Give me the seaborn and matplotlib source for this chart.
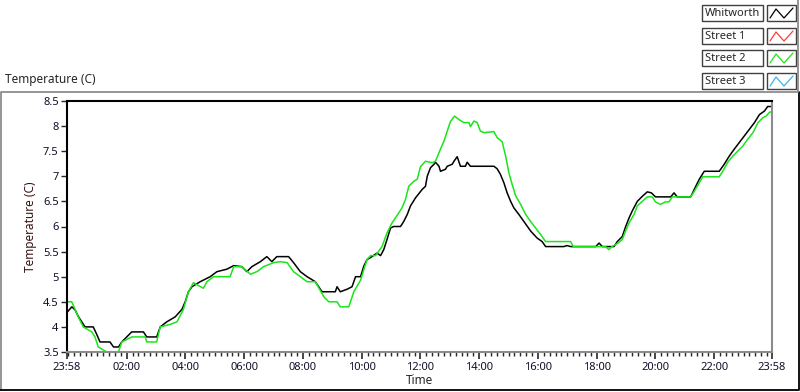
import matplotlib
matplotlib.use("Agg")
import matplotlib.pyplot as plt
from matplotlib.lines import Line2D
from matplotlib.patches import Rectangle
from matplotlib.ticker import MultipleLocator
import seaborn as sns
import pandas as pd

# hours since midnight (axis runs 23:58 -> 23:58)
whitworth_t = [-0.03, 0.13, 0.24, 0.35, 0.47, 0.58, 0.86, 0.98, 1.09, 1.43, 1.55, 1.72, 1.83,
               2.00, 2.17, 2.57, 2.68, 3.02, 3.14, 3.36, 3.65, 3.88, 3.99, 4.10, 4.22, 4.50,
               4.84, 5.07, 5.41, 5.64, 5.92, 6.09, 6.26, 6.55, 6.77, 6.94, 7.11, 7.51, 7.68,
               7.91, 8.14, 8.42, 8.65, 9.10, 9.16, 9.27, 9.50, 9.67, 9.79, 9.96, 10.07,
               10.18, 10.35, 10.52, 10.64, 10.75, 10.86, 10.98, 11.09, 11.32, 11.43, 11.55,
               11.66, 11.83, 12.06, 12.17, 12.23, 12.34, 12.46, 12.51, 12.63, 12.68, 12.85,
               12.91, 13.08, 13.14, 13.25, 13.36, 13.53, 13.59, 13.70, 14.50, 14.61, 14.72,
               14.84, 14.95, 15.07, 15.18, 15.35, 15.52, 15.75, 15.97, 16.14, 16.26, 16.88,
               16.99, 17.11, 17.97, 18.08, 18.19, 18.59, 18.70, 18.87, 18.98, 19.10, 19.21,
               19.38, 19.55, 19.72, 19.86, 20.00, 20.52, 20.63, 20.74, 21.20, 21.32, 21.49,
               21.66, 22.17, 22.34, 22.51, 22.68, 22.85, 23.02, 23.19, 23.37, 23.54, 23.71,
               23.82, 23.97]
whitworth_v = [4.29, 4.40, 4.34, 4.21, 4.10, 4.00, 4.00, 3.85, 3.70, 3.70, 3.60, 3.60, 3.70,
               3.80, 3.90, 3.90, 3.80, 3.80, 4.00, 4.10, 4.20, 4.35, 4.50, 4.70, 4.80, 4.90,
               5.00, 5.10, 5.15, 5.22, 5.20, 5.10, 5.20, 5.30, 5.40, 5.30, 5.40, 5.40, 5.28,
               5.10, 5.00, 4.90, 4.70, 4.70, 4.80, 4.70, 4.75, 4.80, 5.00, 5.00, 5.21,
               5.34, 5.40, 5.47, 5.42, 5.54, 5.74, 5.97, 6.00, 6.00, 6.10, 6.24,
               6.41, 6.57, 6.74, 6.80, 7.00, 7.17, 7.24, 7.28, 7.20, 7.10, 7.14,
               7.20, 7.24, 7.30, 7.39, 7.20, 7.20, 7.28, 7.20, 7.20, 7.15, 7.04,
               6.87, 6.67, 6.50, 6.37, 6.24, 6.10, 5.91, 5.77, 5.70, 5.60, 5.60,
               5.62, 5.60, 5.60, 5.67, 5.60, 5.60, 5.70, 5.80, 5.99, 6.17, 6.31,
               6.50, 6.60, 6.69, 6.67, 6.59, 6.59, 6.67, 6.59, 6.59, 6.74, 6.94,
               7.10, 7.10, 7.24, 7.40, 7.54, 7.67, 7.80, 7.93, 8.07, 8.23, 8.30,
               8.39, 8.39]

street2_t = [-0.03, 0.13, 0.24, 0.35, 0.52, 0.81, 0.92, 1.03, 1.32, 1.72, 1.83, 2.17, 2.63,
             2.68, 3.02, 3.14, 3.48, 3.71, 3.93, 4.10, 4.27, 4.61, 4.73, 4.95, 5.52, 5.64,
             5.92, 6.21, 6.43, 6.66, 7.00, 7.23, 7.46, 7.68, 8.14, 8.42, 8.71, 8.88, 9.16,
             9.27, 9.56, 9.73, 9.96, 10.07, 10.18, 10.30, 10.47, 10.69, 10.86, 11.03,
             11.26, 11.37, 11.49, 11.60, 11.77, 11.89, 12.00, 12.17, 12.40, 12.51, 12.68,
             12.80, 12.91, 13.02, 13.16, 13.31, 13.48, 13.65, 13.70, 13.82, 13.93, 14.04,
             14.16, 14.50, 14.61, 14.78, 14.90, 15.01, 15.12, 15.24, 15.41, 15.58, 15.75,
             15.92, 16.09, 16.26, 17.11, 17.20, 18.30, 18.41, 18.52, 18.70, 18.87, 18.98,
             19.10, 19.27, 19.38, 19.55, 19.72, 19.89, 20.00, 20.17, 20.34, 20.46, 20.57,
             21.20, 21.32, 21.49, 21.61, 22.17, 22.29, 22.46, 22.63, 22.80, 22.97, 23.14,
             23.32, 23.49, 23.66, 23.77, 23.89, 23.97]
street2_v = [4.50, 4.50, 4.35, 4.20, 4.00, 3.90, 3.80, 3.60, 3.50, 3.50, 3.70, 3.80, 3.80,
             3.70, 3.70, 4.00, 4.05, 4.10, 4.35, 4.70, 4.88, 4.77, 4.90, 5.00, 5.00, 5.20,
             5.20, 5.05, 5.10, 5.20, 5.28, 5.30, 5.28, 5.10, 4.90, 4.90, 4.60, 4.50, 4.50,
             4.40, 4.40, 4.70, 4.93, 5.14, 5.34, 5.42, 5.42, 5.60, 5.87, 6.07,
             6.27, 6.37, 6.54, 6.80, 6.90, 6.94, 7.19, 7.30, 7.27, 7.30, 7.54,
             7.70, 7.90, 8.09, 8.20, 8.13, 8.07, 8.07, 7.99, 8.10, 8.07, 7.90,
             7.87, 7.89, 7.77, 7.69, 7.40, 7.07, 6.84, 6.61, 6.44, 6.24, 6.10,
             5.97, 5.84, 5.70, 5.70, 5.60, 5.60, 5.54, 5.60, 5.66, 5.74, 5.91,
             6.07, 6.24, 6.41, 6.50, 6.59, 6.59, 6.49, 6.44, 6.49, 6.49, 6.59,
             6.59, 6.70, 6.87, 6.99, 6.99, 7.10, 7.28, 7.40, 7.50, 7.60, 7.74,
             7.87, 8.07, 8.17, 8.20, 8.28, 8.28]

series_names = ["Whitworth", "Street 1", "Street 2", "Street 3"]
series_colors = ["#000000", "#ff3c3c", "#19e619", "#3cb4f0"]

x_ticks = [-2 / 60, 2, 4, 6, 8, 10, 12, 14, 16, 18, 20, 22, 24 - 2 / 60]
x_labels = ["23:58", "02:00", "04:00", "06:00", "08:00", "10:00", "12:00",
            "14:00", "16:00", "18:00", "20:00", "22:00", "23:58"]
y_ticks = [3.5, 4, 4.5, 5, 5.5, 6, 6.5, 7, 7.5, 8, 8.5]
y_labels = ["3.5", "4", "4.5", "5", "5.5", "6", "6.5", "7", "7.5", "8", "8.5"]

sns.set_style("white")
plt.rcParams["font.family"] = ["Noto Sans", "DejaVu Sans"]
FS = 8

W, H = 800, 392
fig = plt.figure(figsize=(8, 3.92), dpi=100)
ax = fig.add_axes([67 / W, 1 - 352 / H, (772 - 67) / W, (352 - 101) / H])

df_w = pd.DataFrame({"t": whitworth_t, "v": whitworth_v})
df_s2 = pd.DataFrame({"t": street2_t, "v": street2_v})
sns.lineplot(data=df_w, x="t", y="v", color=series_colors[0], lw=1.1, ax=ax, estimator=None)
sns.lineplot(data=df_s2, x="t", y="v", color=series_colors[2], lw=1.1, ax=ax, estimator=None)

ax.set_xlim(x_ticks[0], x_ticks[-1])
ax.set_ylim(3.5, 8.5)
ax.set_xticks(x_ticks)
ax.set_xticklabels(x_labels, fontsize=FS, color="#10102a")
ax.set_yticks(y_ticks)
ax.set_yticklabels(y_labels, fontsize=FS, color="#10102a")
ax.xaxis.set_minor_locator(MultipleLocator(0.2))
ax.tick_params(axis="x", which="major", direction="out", length=5, width=1.2, pad=2, bottom=True)
ax.tick_params(axis="x", which="minor", direction="out", length=3, width=1, bottom=True)
ax.tick_params(axis="y", which="major", direction="out", length=4, width=1, pad=2, left=True)
ax.set_xlabel("Time", fontsize=FS + 0.5, labelpad=1)
ax.set_ylabel("Temperature (C)", fontsize=FS + 0.5, color="#3a1212", labelpad=4)

for side in ["top", "left"]:
    ax.spines[side].set_color("black")
    ax.spines[side].set_linewidth(1.5)
for side in ["right", "bottom"]:
    ax.spines[side].set_color("#8c8c8c")
    ax.spines[side].set_linewidth(1.5)

# panel title and frame
fig.text(5 / W, 1 - 80 / H, "Temperature (C)", fontsize=FS + 0.5, va="center", ha="left")
fig.add_artist(Line2D([1 / W, 1 / W, 798 / W], [1 - 390 / H, 1 - 92 / H, 1 - 92 / H],
                      color="#8c8c8c", lw=1.3))
fig.add_artist(Line2D([0, 799 / W, 799 / W], [1 - 390 / H, 1 - 390 / H, 1 - 92 / H],
                      color="black", lw=1.3))
fig.add_artist(Line2D([798 / W, 798 / W], [1 - 92 / H, 1.0], color="#8c8c8c", lw=1.3))

# legend boxes
row_tops = [5, 28, 50, 73]
for name, col, top in zip(series_names, series_colors, row_tops):
    fig.add_artist(Rectangle((702 / W, 1 - (top + 16) / H), 61 / W, 16 / H,
                             facecolor="white", edgecolor="#404040", lw=1))
    fig.add_artist(Rectangle((767 / W, 1 - (top + 16) / H), 29 / W, 16 / H,
                             facecolor="white", edgecolor="#404040", lw=1))
    fig.text(705 / W, 1 - (top + 8.5) / H, name, fontsize=FS, va="center", ha="left")
    zx = [770, 776, 784, 793]
    zy = [top + 13, top + 4, top + 13, top + 3]
    fig.add_artist(Line2D([v / W for v in zx], [1 - v / H for v in zy], color=col, lw=0.9))

fig.savefig("out.png", dpi=100)
